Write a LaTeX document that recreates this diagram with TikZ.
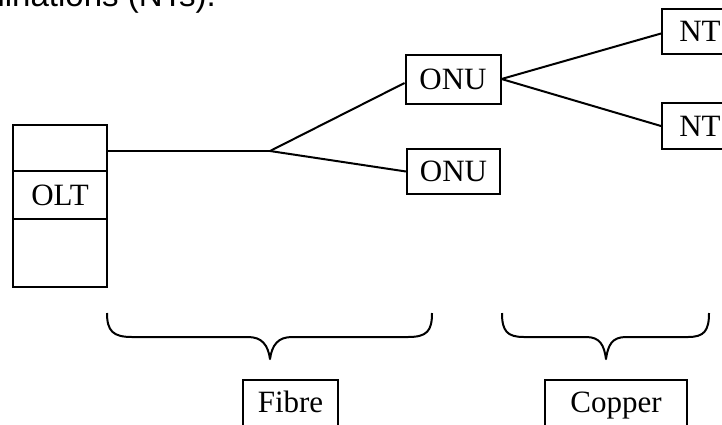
\documentclass[tikz,border=0pt]{standalone}
\usepackage{fontspec}
\setmainfont{Liberation Serif}
\newfontfamily\bodysans{Liberation Sans}
\begin{document}
\begin{tikzpicture}[x=1pt,y=-1pt,
  every node/.style={inner sep=0pt},
  unit/.style={draw,line width=2pt,font=\fontsize{31}{37}\selectfont,
    text height=21pt,text depth=0.5pt},
  label box/.style={draw,line width=2pt,font=\fontsize{31}{37}\selectfont,
    text height=22pt,text depth=8pt,inner ysep=10pt,anchor=base},
  link/.style={line width=2pt},
  curly/.style={line width=2pt,line join=round}]
\useasboundingbox (0,0) rectangle (722,424);
\clip (0,0) rectangle (722,424);

% running text of the page above the figure
\node[anchor=base east,font=\bodysans\fontsize{33}{39}\selectfont] (caption)
  at (216,6.5) {terminations (NTs).};

% OLT rack
\node[unit,minimum width=94pt,minimum height=46pt] (oltTop) at (60,148) {};
\node[unit,minimum width=94pt,minimum height=48pt] (oltMid) at (60,195) {OLT};
\node[unit,minimum width=94pt,minimum height=68pt] (oltBot) at (60,253) {};

% optical network units
\node[unit,minimum width=95pt,minimum height=49pt] (onuA) at (453,79) {ONU};
\node[unit,minimum width=93pt,minimum height=45pt] (onuB) at (453.5,171.5) {ONU};

% network terminations
\node[unit,minimum width=76pt,minimum height=45pt] (ntA) at (700,31.5) {NT};
\node[unit,minimum width=76pt,minimum height=46pt] (ntB) at (700,126) {NT};

% splitter point
\coordinate (split) at (270,151);

\draw[link] (oltTop.east |- split) -- (split);
\draw[link] (split) -- ([yshift=-4pt]onuA.west);
\draw[link] (split) -- (onuB.west);
\draw[link] (onuA.east) -- ([yshift=-2pt]ntA.west);
\draw[link] (onuA.east) -- (ntB.west);

% braces
\draw[curly] (107,313) .. controls (107,331) and (113,337) .. (132,337)
  -- (248,337) .. controls (262,337) and (268,345) .. (270,359)
  .. controls (272,345) and (278,337) .. (292,337)
  -- (408,337) .. controls (427,337) and (432,331) .. (432,313);
\draw[curly] (502,313) .. controls (502,331) and (507,337) .. (524,337)
  -- (586,337) .. controls (600,337) and (604,345) .. (606,359)
  .. controls (608,345) and (612,337) .. (626,337)
  -- (688,337) .. controls (704,337) and (709,331) .. (709,313);

% medium labels
\node[label box,minimum width=95pt] (fibre) at (290.5,412) {Fibre};
\node[label box,minimum width=142pt] (copper) at (616,412) {Copper};
\end{tikzpicture}
\end{document}
